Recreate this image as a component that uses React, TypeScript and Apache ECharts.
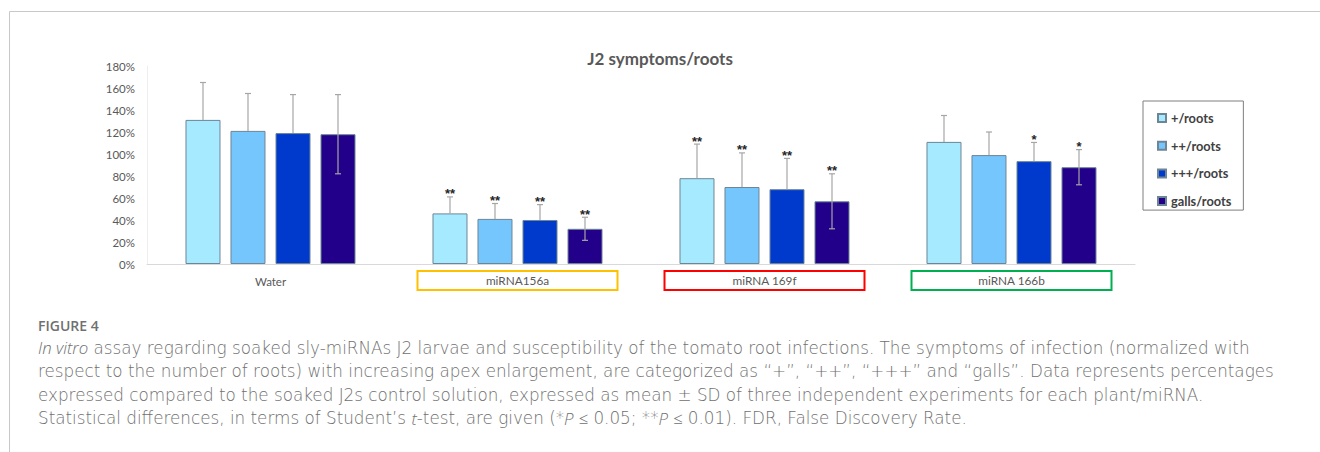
import React, { useEffect, useRef } from "react";
import * as echarts from "echarts";

const categories = ["Water", "miRNA156a", "miRNA 169f", "miRNA 166b"];
const seriesNames = ["+/roots", "++/roots", "+++/roots", "galls/roots"];
const plusRoots = [131, 46, 78, 111];
const plusPlusRoots = [121, 41, 70, 99];
const plus3Roots = [119, 40, 68, 93.5];
const gallsRoots = [118, 32, 57, 88];
const plusSD = [34, 15, 31, 24];
const plusPlusSD = [34, 14, 31, 21];
const plus3SD = [35, 14, 28, 17];
const gallsSD = [36, 10.5, 25, 16];
const plusSig = ["", "**", "**", ""];
const plusPlusSig = ["", "**", "**", ""];
const plus3Sig = ["", "**", "**", "*"];
const gallsSig = ["", "**", "**", "*"];
const yTicks = [0, 20, 40, 60, 80, 100, 120, 140, 160, 180];
const captionHead = "FIGURE 4";
const captionLines = [
  "{i|In vitro} assay regarding soaked sly-miRNAs J2 larvae and susceptibility of the tomato root infections. The symptoms of infection (normalized with",
  "respect to the number of roots) with increasing apex enlargement, are categorized as “+”, “++”, “+++” and “galls”. Data represents percentages",
  "expressed compared to the soaked J2s control solution, expressed as mean ± SD of three independent experiments for each plant/miRNA.",
  "Statistical differences, in terms of Student’s {i|t}-test, are given (*{i|P} ≤ 0.05; **{i|P} ≤ 0.01). FDR, False Discovery Rate.",
];

const values = [plusRoots, plusPlusRoots, plus3Roots, gallsRoots];
const sds = [plusSD, plusPlusSD, plus3SD, gallsSD];
const sigs = [plusSig, plusPlusSig, plus3Sig, gallsSig];
const lowerErr = [false, false, false, true];
const colors = ["#a6eaff", "#75c6fd", "#003acc", "#220089"];
const boxColors = ["", "#ffc000", "#ff0000", "#00b050"];

export default function App() {
  const ref = useRef<HTMLDivElement>(null);
  useEffect(() => {
    document.body.style.margin = "0";
    const chart = echarts.init(ref.current!, undefined, { renderer: "svg" });
    const font = "Lato";
    const barSeries = values.map((vals, s) => ({
      name: seriesNames[s],
      type: "bar",
      data: vals,
      barWidth: 35,
      barGap: "28.6%",
      itemStyle: { color: colors[s], borderColor: "#6d8595", borderWidth: 1 },
      z: 2,
    }));
    const errSeries = values.map((vals, s) => ({
      name: "err" + s,
      type: "custom",
      z: 5,
      data: vals.map((v, i) => [i, v, sds[s][i], lowerErr[s] ? sds[s][i] : 0]),
      renderItem: (params: any, api: any) => {
        const ci = api.value(0);
        const v = api.value(1);
        const up = api.value(2);
        const down = api.value(3);
        const base = api.coord([ci, v]);
        const x = base[0] + (s - 1.5) * 45;
        const yTop = api.coord([ci, v + up])[1];
        const yBot = api.coord([ci, v - down])[1];
        const st = { stroke: "#a6a6a6", lineWidth: 1.2 };
        const children: any[] = [
          { type: "line", shape: { x1: x, y1: yBot, x2: x, y2: yTop }, style: st },
          { type: "line", shape: { x1: x - 3, y1: yTop, x2: x + 3, y2: yTop }, style: st },
        ];
        if (down > 0) {
          children.push({ type: "line", shape: { x1: x - 3, y1: yBot, x2: x + 3, y2: yBot }, style: st });
        }
        const sig = sigs[s][params.dataIndex];
        if (sig) {
          children.push({
            type: "text",
            style: {
              text: sig,
              x: x,
              y: yTop - 3,
              align: "center",
              verticalAlign: "middle",
              fontSize: 13,
              fontWeight: "bold",
              fontFamily: "Liberation Sans",
              fill: "#262626",
            },
          });
        }
        return { type: "group", children };
      },
    }));
    const rich: any = {
      b0: { fontSize: 11.5, fontFamily: font, color: "#595959", height: 21, align: "center" },
    };
    [1, 2, 3].forEach((k) => {
      rich["b" + k] = {
        fontSize: 11.8,
        fontFamily: font,
        color: "#595959",
        height: 19,
        width: 200,
        align: "center",
        borderColor: boxColors[k],
        borderWidth: 2,
      };
    });
    const capFont = 16.8;
    const capFamily = "DejaVu Sans";
    const captionGraphics: any[] = captionLines.map((line, i) => ({
      type: "text",
      left: 38,
      top: 336.5 + i * 23.5,
      style: {
        text: line,
        fontSize: capFont,
        fontFamily: capFamily,
        fontWeight: 200,
        fill: "#707070",
        lineHeight: 22,
        rich: {
          i: { fontSize: capFont, fontFamily: "Open Sans", fontWeight: 300, fontStyle: "italic", fill: "#707070", lineHeight: 22 },
        },
      },
    }));
    chart.setOption({
      animation: false,
      backgroundColor: "#ffffff",
      title: {
        text: "J2 symptoms/roots",
        left: "center",
        top: 45,
        textStyle: { fontFamily: font, fontSize: 17, fontWeight: "bold", color: "#595959" },
      },
      legend: {
        data: seriesNames,
        orient: "vertical",
        left: 1143,
        top: 101,
        padding: [10, 12, 2, 14],
        itemGap: 13.7,
        itemWidth: 8,
        itemHeight: 8,
        itemTextGap: 3,
        borderColor: "#7f7f7f",
        borderWidth: 1,
        icon: "rect",
        textStyle: { fontFamily: font, fontSize: 12.8, fontWeight: "bold", color: "#404040", lineHeight: 14 },
      },
      grid: { left: 147, right: 185, top: 66, bottom: 188, containLabel: false },
      xAxis: {
        type: "category",
        data: categories,
        axisLine: { lineStyle: { color: "#d9d9d9" } },
        axisTick: { show: false },
        axisLabel: {
          margin: 7,
          interval: 0,
          formatter: (value: string, index: number) => `{b${index}|${value}}`,
          rich,
        },
      },
      yAxis: {
        type: "value",
        min: yTicks[0],
        max: yTicks[yTicks.length - 1],
        interval: 20,
        axisLine: { show: true, lineStyle: { color: "#eeeeee" } },
        axisTick: { show: false },
        splitLine: { show: false },
        axisLabel: { formatter: "{value}%", fontFamily: font, fontSize: 11.5, color: "#595959", margin: 12 },
      },
      series: [...barSeries, ...errSeries],
      graphic: [
        { type: "line", shape: { x1: 9.5, y1: 11.5, x2: 1320, y2: 11.5 }, style: { stroke: "#c8c8c8", lineWidth: 1 } },
        { type: "line", shape: { x1: 9.5, y1: 11.5, x2: 9.5, y2: 452 }, style: { stroke: "#c8c8c8", lineWidth: 1 } },
        {
          type: "text",
          left: 38,
          top: 316,
          style: { text: captionHead, fontSize: 14, fontFamily: "Open Sans", fontWeight: 600, fill: "#707070", lineHeight: 18 },
        },
        ...captionGraphics,
      ],
    });
    return () => chart.dispose();
  }, []);
  return <div ref={ref} style={{ width: 1320, height: 452 }} />;
}
